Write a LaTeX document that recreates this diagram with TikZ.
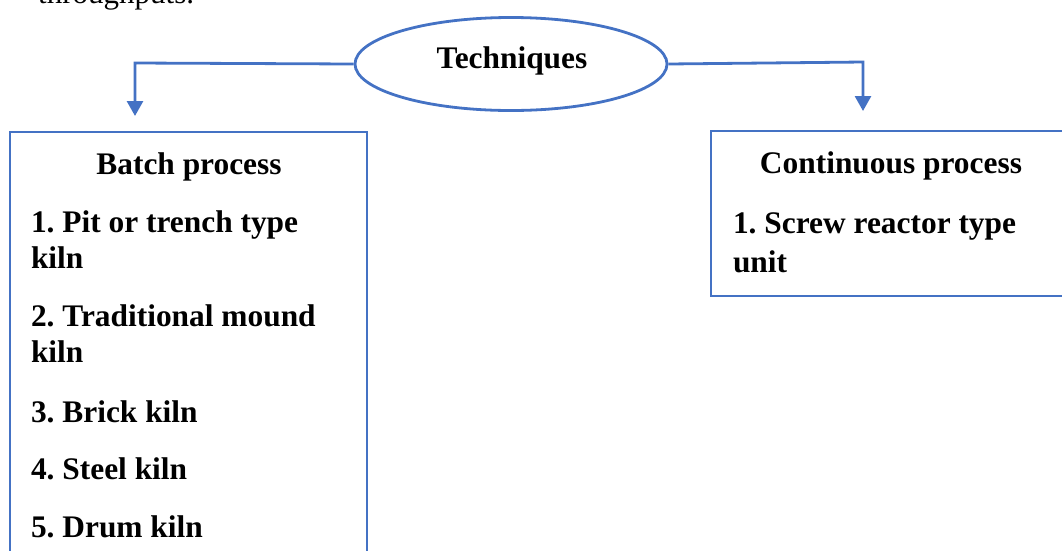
\documentclass[tikz,border=0pt]{standalone}
\usepackage{fontspec}
\setmainfont{Liberation Serif}
\usetikzlibrary{arrows.meta,shapes.geometric}
\definecolor{edgeblue}{HTML}{4472C4}
\frenchspacing
\tikzset{
  line/.style={draw=edgeblue, line width=2.8pt},
  arrowline/.style={line, -{Triangle[width=16pt,length=15pt]}},
  txt/.style={inner sep=0pt, outer sep=0pt, anchor=base west, font=\fontsize{31.4}{37}\selectfont\bfseries},
  ctxt/.style={txt, anchor=base},
}
\begin{document}
\begin{tikzpicture}[x=1pt,y=-1pt]
\useasboundingbox (0,0) rectangle (1062,550);
\begin{scope}
\clip (0,0) rectangle (1062,550);
% cut-off paragraph text
\node[inner sep=0pt, anchor=base west, font=\fontsize{31}{37}\selectfont] (para) at (38,3) {throughputs.};
% ellipse
\node[line, ellipse, minimum width=312pt, minimum height=93pt, inner sep=0pt] (tech) at (511,64) {};
\node[ctxt] (techtxt) at (512,68) {Techniques};
% boxes
\draw[line] (10,600) -- (10,132) -- (367,132) -- (367,600);
\coordinate (batchbox) at (189,132);
\draw[line] (1080,296) -- (711,296) -- (711,131) -- (1080,131);
\coordinate (contbox) at (863,131);
% connectors
\coordinate (lcorner) at (135,63);
\coordinate (ltip) at (135,116);
\coordinate (rcorner) at (863,62);
\coordinate (rtip) at (863,111);
\draw[arrowline] (tech.west) -- (lcorner) -- (ltip);
\draw[arrowline] (tech.east) -- (rcorner) -- (rtip);
% left box text
\node[ctxt] (batch) at (189,174) {Batch process};
\node[txt] (b1a) at (31,232) {1. Pit or trench type};
\node[txt] (b1b) at (31,268) {kiln};
\node[txt] (b2a) at (31,326) {2. Traditional mound};
\node[txt] (b2b) at (31,362) {kiln};
\node[txt] (b3) at (31,422) {3. Brick kiln};
\node[txt] (b4) at (31,479) {4. Steel kiln};
\node[txt] (b5) at (31,537) {5. Drum kiln};
% right box text
\node[ctxt] (cont) at (891,173) {Continuous process};
\node[txt] (c1a) at (733,233) {1. Screw reactor type};
\node[txt] (c1b) at (733,272) {unit};
\end{scope}
\end{tikzpicture}
\end{document}
